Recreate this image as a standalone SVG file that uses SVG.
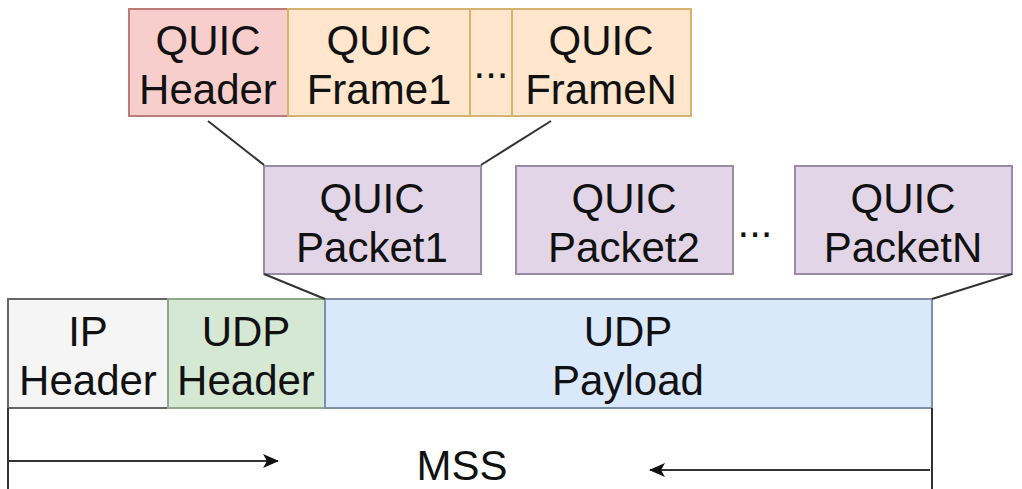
<svg xmlns="http://www.w3.org/2000/svg" width="1022" height="489" viewBox="0 0 1022 489">
<style>
text{font-family:"Liberation Sans",Arial,sans-serif;font-size:42px;fill:#111;text-anchor:middle}
.hdr{fill:#f8cecc;stroke:#b87d78;stroke-width:2}
.frm{fill:#ffe6cc;stroke:#d6b36e;stroke-width:2}
.pkt{fill:#e1d5e7;stroke:#9a8ca3;stroke-width:2}
.ip{fill:#f5f5f5;stroke:#666;stroke-width:2}
.udp{fill:#d5e8d4;stroke:#8fa88a;stroke-width:2}
.pay{fill:#dae8fc;stroke:#7f8fa8;stroke-width:2}
.ln{stroke:#333;stroke-width:2;fill:none}
</style>
<defs>
<marker id="ah" viewBox="0 0 16 14" refX="15" refY="7" markerWidth="16" markerHeight="14" markerUnits="userSpaceOnUse" orient="auto">
<path d="M0,0 L16,7 L0,14 L4,7 Z" fill="#111"/>
</marker>
</defs>
<g id="quic-header"><rect class="hdr" x="129" y="9" width="159" height="107"/><text x="208" y="55">QUIC</text><text x="208" y="104">Header</text></g>
<g id="quic-frame1"><rect class="frm" x="288" y="9" width="182" height="107"/><text x="379" y="55">QUIC</text><text x="379" y="104">Frame1</text></g>
<g id="frame-dots"><rect class="frm" x="470" y="9" width="42" height="107"/><text x="491" y="78">...</text></g>
<g id="quic-frameN"><rect class="frm" x="512" y="9" width="179" height="107"/><text x="601" y="55">QUIC</text><text x="601" y="104">FrameN</text></g>
<g id="quic-packet1"><rect class="pkt" x="264" y="166" width="217" height="108"/><text x="372" y="213">QUIC</text><text x="372" y="262">Packet1</text></g>
<g id="quic-packet2"><rect class="pkt" x="516" y="166" width="217" height="108"/><text x="624" y="213">QUIC</text><text x="624" y="262">Packet2</text></g>
<g id="packet-dots"><text x="755" y="237">...</text></g>
<g id="quic-packetN"><rect class="pkt" x="795" y="166" width="217" height="108"/><text x="903" y="213">QUIC</text><text x="903" y="262">PacketN</text></g>
<g id="ip-header"><rect class="ip" x="8" y="299" width="160" height="109"/><text x="88" y="346">IP</text><text x="88" y="395">Header</text></g>
<g id="udp-header"><rect class="udp" x="168" y="299" width="157" height="109"/><text x="246" y="346">UDP</text><text x="246" y="395">Header</text></g>
<g id="udp-payload"><rect class="pay" x="325" y="299" width="607" height="109"/><text x="628" y="346">UDP</text><text x="628" y="395">Payload</text></g>
<g id="mss"><text x="462" y="480">MSS</text></g>
<g id="connectors">
<line class="ln" x1="208" y1="121" x2="264" y2="165"/>
<line class="ln" x1="551" y1="121" x2="481" y2="165"/>
<line class="ln" x1="264" y1="274" x2="325" y2="299"/>
<line class="ln" x1="1012" y1="274" x2="932" y2="299"/>
<line class="ln" x1="8" y1="408" x2="8" y2="489"/>
<line class="ln" x1="932" y1="408" x2="932" y2="489"/>
<line class="ln" x1="8" y1="461" x2="278" y2="461" marker-end="url(#ah)"/>
<line class="ln" x1="930" y1="470" x2="650" y2="470" marker-end="url(#ah)"/>
</g>
</svg>
